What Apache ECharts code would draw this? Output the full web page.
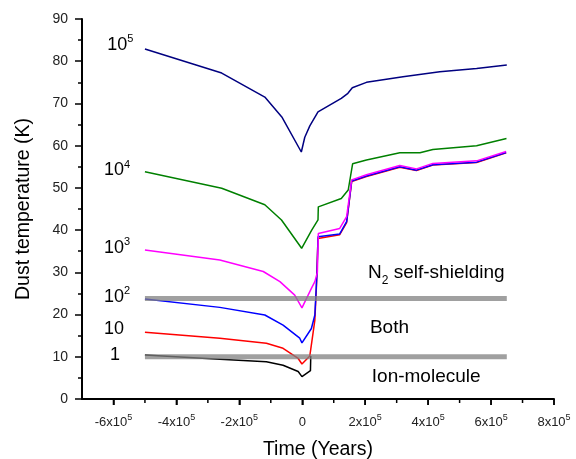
<!DOCTYPE html>
<html>
<head>
<meta charset="utf-8">
<title>Dust temperature</title>
<script src="https://cdn.jsdelivr.net/npm/echarts@6/dist/echarts.min.js"></script>
<style>
  html, body { margin: 0; padding: 0; background: #fff; }
  #main { width: 576px; height: 459px; }
</style>
</head>
<body>
<div id="main"></div>
<script>
// x in years, y in K
var n1e5 = [[-500000,82.9],[-256000,77.2],[-119000,71.5],[-65000,66.8],[-3000,58.5],[8000,62],[24000,64.7],[50000,68],
            [124000,71.2],[145000,72.4],[159000,73.7],[204000,75],[320000,76.3],[437000,77.5],[554000,78.3],[650000,79.1]];
var n1e4 = [[-500000,53.8],[-256000,49.9],[-119000,46],[-66000,42.4],[-2000,35.7],[30000,40],[50000,42.4],[51000,45.5],
            [124000,47.5],[146000,49.5],[160000,55.7],[204000,56.6],[310000,58.3],[374000,58.3],[415000,59.1],
            [554000,60],[649000,61.7]];
var n1e3 = [[-500000,35.3],[-262000,32.9],[-124000,30.2],[-71000,27.8],[-24000,24.6],[-1000,21.6],[29000,26.2],[40000,27.8],
            [48000,30],[51000,39.2],[119000,40.4],[141000,43.2],[157000,51.9],[204000,53.1],[310000,55.3],[363000,54.5],
            [415000,55.8],[554000,56.4],[648000,58.6]];
var n1e2 = [[-500000,23.7],[-262000,21.7],[-119000,19.9],[-61000,17.5],[-8000,14.4],[-1000,13.3],[29000,16.7],[40000,19.9],
            [47000,30.2],[50000,38.4],[119000,39.1],[141000,42],[157000,51.6],[204000,52.8],[310000,55],[363000,54.2],
            [415000,55.5],[554000,56.1],[648000,58.4]];
var n10  = [[-500000,15.8],[-262000,14.4],[-114000,13.2],[-61000,12],[-13000,9.6],[-1000,8.3],[24000,10.2],[34000,15.5],
            [40000,18.7],[45000,26.6],[50000,38],[119000,38.9],[141000,41.8],[157000,51.5],[204000,52.7],[310000,54.9],
            [363000,54.1],[415000,55.4],[554000,56],[648000,58.3]];
var n1   = [[-500000,10.4],[-262000,9.4],[-114000,8.8],[-61000,8],[-13000,6.5],[-1000,5.3],[26000,6.7],[27000,10.2]];

var bandLevels = [23.8, 10];
var bandRange = [-500000, 650000];

var xRange = [-700000, 800000];
var majorTicks = [-600000,-400000,-200000,0,200000,400000,600000,800000];
var minorTicks = [-500000,-300000,-100000,100000,300000,500000,700000];

// curve labels: [base, exponent, x, y]
var curveLabels = [['10','5',-620000,83.9],['10','4',-630000,54.2],['10','3',-630000,35.8],
                   ['10','2',-630000,24.2],['10','',-630000,16.6],['1','',-611000,10.4]];
// region labels: [text, subscript, rest, x, y]
var regionLabels = [['N','2',' self-shielding',209000,29.8],['Both','','',215000,16.8],['Ion-molecule','','',221000,5.2]];

var font = 'Liberation Sans, Arial, sans-serif';
var chart = echarts.init(document.getElementById('main'));

function lineSeries(data, color) {
    return {
        type: 'line', data: data, symbol: 'none', animation: false,
        lineStyle: { color: color, width: 1.5 }
    };
}

var series = [
    lineSeries(n1, '#000000'),
    lineSeries(n10, '#ff0000'),
    lineSeries(n1e2, '#0000ff'),
    lineSeries(n1e3, '#ff00ff'),
    lineSeries(n1e4, '#008000'),
    lineSeries(n1e5, '#000080')
];
bandLevels.forEach(function (lv) {
    series.push({
        type: 'line', symbol: 'none', animation: false, z: 5,
        data: [[bandRange[0], lv], [bandRange[1], lv]],
        lineStyle: { color: 'rgba(128,128,128,0.75)', width: 5 }
    });
});

// bottom axis line drawn as a series too (the axis line alone did not show up)
var pxPerK = 380 / 90;
series.push({
    type: 'line', symbol: 'none', animation: false, clip: false, z: 6, silent: true,
    data: [[xRange[0], 0], [xRange[1], 0]],
    lineStyle: { color: '#000', width: 2 }
});
function tickSeries(values, lenPx) {
    values.forEach(function (v) {
        series.push({
            type: 'line', symbol: 'none', animation: false, clip: false, z: 6, silent: true,
            data: [[v, 0], [v, -lenPx / pxPerK]],
            lineStyle: { color: '#000', width: 1.5 }
        });
    });
}
tickSeries(majorTicks, 6);
tickSeries(minorTicks, 4);

var tickLine = { color: '#000', width: 1.5 };

var option = {
    backgroundColor: '#fff',
    textStyle: { fontFamily: font },
    grid: { left: 82, top: 19, right: 22, bottom: 60, containLabel: false, outerBoundsMode: 'none' },
    xAxis: {
        type: 'value', min: xRange[0], max: xRange[1], position: 'bottom',
        name: 'Time (Years)', nameLocation: 'middle', nameGap: 41,
        nameTextStyle: { fontSize: 19.5, color: '#000', fontFamily: font },
        splitLine: { show: false },
        axisLine: { show: true, lineStyle: { color: '#000', width: 2 } },
        axisTick: { show: true, customValues: majorTicks, length: 6, lineStyle: tickLine },
        axisLabel: {
            customValues: majorTicks, margin: 14, color: '#222', fontSize: 13,
            formatter: function (v) {
                if (v === 0) return '{b|0}';
                return '{b|' + (v / 100000) + 'x10}{s|5}';
            },
            rich: {
                b: { fontSize: 13, lineHeight: 18, color: '#222', fontFamily: font },
                s: { fontSize: 9, lineHeight: 9, color: '#222', verticalAlign: 'top', fontFamily: font }
            }
        }
    },
    yAxis: {
        type: 'value', min: 0, max: 90, interval: 10, position: 'left',
        name: 'Dust temperature (K)', nameLocation: 'middle', nameGap: 48,
        nameTextStyle: { fontSize: 19.5, color: '#000', fontFamily: font },
        splitLine: { show: false },
        axisLine: { show: true, onZero: false, lineStyle: { color: '#000', width: 2 } },
        axisTick: { show: true, length: 7, lineStyle: tickLine },
        minorTick: { show: true, splitNumber: 2, length: 4, lineStyle: tickLine },
        axisLabel: { color: '#222', fontSize: 14, margin: 14 }
    },
    series: series
};
chart.setOption(option);

function toPx(x, y) {
    return chart.convertToPixel({ gridIndex: 0 }, [x, y]);
}

var graphics = [];
curveLabels.forEach(function (c) {
    var p = toPx(c[2], c[3]);
    graphics.push({
        type: 'text', x: p[0], y: p[1], z: 10,
        style: {
            text: '{a|' + c[0] + '}' + (c[1] ? '{s|' + c[1] + '}' : ''),
            verticalAlign: 'middle', align: 'left',
            rich: {
                a: { fontSize: 18, lineHeight: 22, fill: '#000', fontFamily: font },
                s: { fontSize: 11, lineHeight: 11, fill: '#000', verticalAlign: 'top', fontFamily: font }
            }
        }
    });
});
regionLabels.forEach(function (r) {
    var p = toPx(r[3], r[4]);
    graphics.push({
        type: 'text', x: p[0], y: p[1], z: 10,
        style: {
            text: '{a|' + r[0] + '}' + (r[1] ? '{s|' + r[1] + '}{a|' + r[2] + '}' : ''),
            verticalAlign: 'middle', align: 'left',
            rich: {
                a: { fontSize: 19, lineHeight: 28, fill: '#000', fontFamily: font },
                s: { fontSize: 12, lineHeight: 12, fill: '#000', verticalAlign: 'bottom', fontFamily: font }
            }
        }
    });
});
chart.setOption({ graphic: graphics });
</script>
</body>
</html>
